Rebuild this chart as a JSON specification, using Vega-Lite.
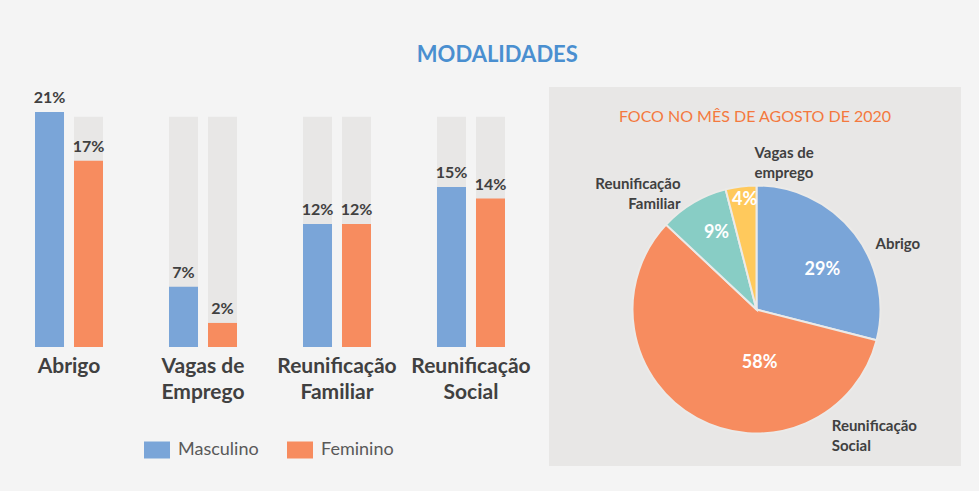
{
  "$schema": "https://vega.github.io/schema/vega-lite/v6.json",
  "background": "#f4f4f4",
  "padding": {"left": 33, "top": 44, "right": 19, "bottom": 27},
  "config": {"font": "Lato", "view": {"stroke": null}},
  "title": {"text": "MODALIDADES", "fontSize": 22, "fontWeight": "bold", "color": "#4a8fd0", "anchor": "middle", "offset": 20},
  "datasets": {
    "bars": [
      {"cat": "Abrigo", "sex": "Masculino", "value": 21.0, "label": "21%"},
      {"cat": "Abrigo", "sex": "Feminino", "value": 16.65, "label": "17%"},
      {"cat": "Vagas de Emprego", "sex": "Masculino", "value": 5.39, "label": "7%"},
      {"cat": "Vagas de Emprego", "sex": "Feminino", "value": 2.15, "label": "2%"},
      {"cat": "Reunificação Familiar", "sex": "Masculino", "value": 11.0, "label": "12%"},
      {"cat": "Reunificação Familiar", "sex": "Feminino", "value": 11.0, "label": "12%"},
      {"cat": "Reunificação Social", "sex": "Masculino", "value": 14.3, "label": "15%"},
      {"cat": "Reunificação Social", "sex": "Feminino", "value": 13.26, "label": "14%"}
    ],
    "pie": [
      {"cat": "Abrigo", "label": "Abrigo", "value": 29, "pct": "29%", "order": 1},
      {"cat": "Reunificação Social", "label": "Reunificação|Social", "value": 58, "pct": "58%", "order": 2},
      {"cat": "Reunificação Familiar", "label": "Reunificação|Familiar", "value": 9, "pct": "9%", "order": 3},
      {"cat": "Vagas de emprego", "label": "Vagas de|emprego", "value": 4, "pct": "4%", "order": 4}
    ]
  },
  "spacing": 44,
  "bounds": "flush",
  "resolve": {"scale": {"color": "independent"}, "legend": {"color": "independent"}},
  "hconcat": [
    {
      "width": 470,
      "height": 260,
      "data": {"name": "bars"},
      "encoding": {
        "x": {"field": "cat", "type": "nominal", "sort": ["Abrigo", "Vagas de Emprego", "Reunificação Familiar", "Reunificação Social"],
          "scale": {"paddingInner": 0.4925, "paddingOuter": 0},
          "axis": {"title": null, "labelAngle": 0, "ticks": false, "domain": false, "labelFontSize": 21, "labelFontWeight": "bold", "labelColor": "#404040", "labelPadding": 8, "labelLineHeight": 26, "labelOverlap": false, "labelLimit": 0,
            "labelExpr": "datum.label == 'Vagas de Emprego' ? ['Vagas de', 'Emprego'] : split(datum.label, ' ')"}},
        "xOffset": {"field": "sex", "type": "nominal", "sort": ["Masculino", "Feminino"], "scale": {"paddingInner": 0.256, "paddingOuter": 0}}
      },
      "layer": [
        {
          "mark": {"type": "bar", "color": "#e8e7e6"},
          "encoding": {"y": {"datum": 20.58, "type": "quantitative", "scale": {"domain": [0, 23.23], "nice": false, "zero": true}, "axis": null}}
        },
        {
          "mark": {"type": "bar"},
          "encoding": {
            "y": {"field": "value", "type": "quantitative", "scale": {"domain": [0, 23.23], "nice": false, "zero": true}, "axis": null},
            "color": {"field": "sex", "type": "nominal", "scale": {"domain": ["Masculino", "Feminino"], "range": ["#7aa5d8", "#f78c5f"]},
              "legend": {"orient": "none", "legendX": 109, "legendY": 350, "direction": "horizontal", "title": null, "symbolType": "M-1,-0.654H1V0.654H-1Z", "symbolSize": 676, "symbolStrokeWidth": 0, "symbolOpacity": 1, "labelFontSize": 18, "labelColor": "#595959", "labelOffset": 8, "columnPadding": 28, "padding": 0}}
          }
        },
        {
          "mark": {"type": "text", "dy": -9, "baseline": "alphabetic", "fontSize": 16, "fontWeight": "bold", "color": "#404040"},
          "encoding": {
            "y": {"field": "value", "type": "quantitative"},
            "text": {"field": "label"}
          }
        }
      ]
    },
    {
      "width": 412,
      "height": 379,
      "view": {"fill": "#e8e7e6", "stroke": null},
      "title": {"text": "FOCO NO MÊS DE AGOSTO DE 2020", "fontSize": 16, "fontWeight": "normal", "color": "#f4793e", "anchor": "middle", "offset": -38},
      "data": {"name": "pie"},
      "encoding": {
        "theta": {"field": "value", "type": "quantitative", "stack": true},
        "order": {"field": "order", "type": "quantitative"},
        "color": {"field": "cat", "type": "nominal", "scale": {"domain": ["Abrigo", "Reunificação Social", "Reunificação Familiar", "Vagas de emprego"], "range": ["#7aa5d8", "#f78c5f", "#88cdc5", "#ffc95c"]}, "legend": null}
      },
      "layer": [
        {"mark": {"type": "arc", "outerRadius": 124, "stroke": "#ebeae8", "strokeWidth": 2, "xOffset": 1.5, "yOffset": 33}},
        {"mark": {"type": "text", "radius": 77, "thetaOffset": 0.115, "xOffset": 1.5, "yOffset": 33, "fontSize": 18, "fontWeight": "bold", "baseline": "middle", "align": "center"},
          "encoding": {"color": {"value": "#ffffff"}, "text": {"condition": {"test": "datum.cat === 'Abrigo'", "field": "pct"}, "value": ""}}},
        {"mark": {"type": "text", "radius": 54, "thetaOffset": -0.56, "xOffset": 1.5, "yOffset": 33, "fontSize": 18, "fontWeight": "bold", "baseline": "middle", "align": "center"},
          "encoding": {"color": {"value": "#ffffff"}, "text": {"condition": {"test": "datum.cat === 'Reunificação Social'", "field": "pct"}, "value": ""}}},
        {"mark": {"type": "text", "radius": 86, "thetaOffset": 0.05, "xOffset": 1.5, "yOffset": 33, "fontSize": 18, "fontWeight": "bold", "baseline": "middle", "align": "center"},
          "encoding": {"color": {"value": "#ffffff"}, "text": {"condition": {"test": "datum.cat === 'Reunificação Familiar'", "field": "pct"}, "value": ""}}},
        {"mark": {"type": "text", "radius": 110, "thetaOffset": 0.017, "xOffset": 1.5, "yOffset": 33, "fontSize": 18, "fontWeight": "bold", "baseline": "middle", "align": "center"},
          "encoding": {"color": {"value": "#ffffff"}, "text": {"condition": {"test": "datum.cat === 'Vagas de emprego'", "field": "pct"}, "value": ""}}},
        {"mark": {"type": "text", "radius": 136, "thetaOffset": 0.154, "xOffset": 1.5, "yOffset": 33, "fontSize": 15, "fontWeight": "bold", "baseline": "middle", "align": "left", "lineBreak": "|", "lineHeight": 20},
          "encoding": {"color": {"value": "#404040"}, "text": {"condition": {"test": "datum.cat === 'Abrigo'", "field": "label"}, "value": ""}}},
        {"mark": {"type": "text", "radius": 147, "thetaOffset": -1.04, "xOffset": 1.5, "yOffset": 33, "dy": -10, "fontSize": 15, "fontWeight": "bold", "baseline": "middle", "align": "left", "lineBreak": "|", "lineHeight": 20},
          "encoding": {"color": {"value": "#404040"}, "text": {"condition": {"test": "datum.cat === 'Reunificação Social'", "field": "label"}, "value": ""}}},
        {"mark": {"type": "text", "radius": 139, "thetaOffset": -0.044, "xOffset": 1.5, "yOffset": 33, "dy": -9, "fontSize": 15, "fontWeight": "bold", "baseline": "middle", "align": "right", "lineBreak": "|", "lineHeight": 20},
          "encoding": {"color": {"value": "#404040"}, "text": {"condition": {"test": "datum.cat === 'Reunificação Familiar'", "field": "label"}, "value": ""}}},
        {"mark": {"type": "text", "radius": 147, "thetaOffset": 0.112, "xOffset": 1.5, "yOffset": 33, "dy": -10, "fontSize": 15, "fontWeight": "bold", "baseline": "middle", "align": "left", "lineBreak": "|", "lineHeight": 20},
          "encoding": {"color": {"value": "#404040"}, "text": {"condition": {"test": "datum.cat === 'Vagas de emprego'", "field": "label"}, "value": ""}}}
      ]
    }
  ]
}
